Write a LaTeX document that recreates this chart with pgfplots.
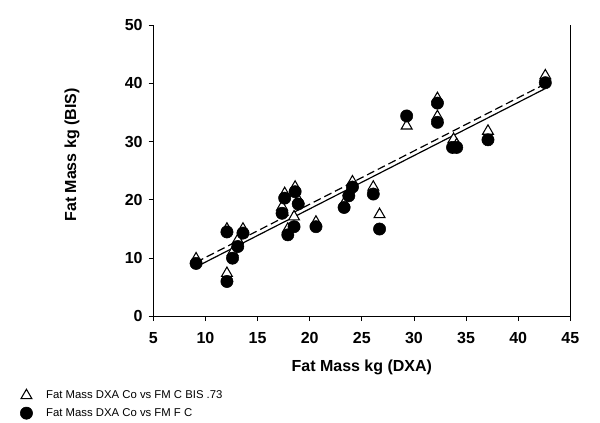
\documentclass[border=0pt]{standalone}
\usepackage{pgfplots}
\pgfplotsset{compat=1.18}
\usepackage{fontspec}
\setmainfont{Liberation Sans}
\pgfplotsset{mylegimg/.style={legend image code/.code={\draw[##1] plot[only marks] coordinates {(0.17cm,0cm)}; \path[draw=none, fill=none] (0cm,0cm) -- (0.62cm,0cm);}}}
\begin{document}
\begin{tikzpicture}
\useasboundingbox (0,0) rectangle (450pt,317.25pt);
\begin{axis}[
  at={(115pt,79.9pt)}, anchor=origin,
  scale only axis, width=312.75pt, height=218.6pt,
  xmin=5, xmax=45, ymin=0, ymax=50,
  xtick={5,10,...,45}, ytick={0,10,...,50},
  axis x line*=bottom, axis y line*=left,
  axis line style={line width=1pt, -},
  tick align=outside, major tick length=3.5pt,
  tick style={line width=0.6pt, black},
  /pgf/number format/assume math mode=true,
  tick label style={font=\fontsize{12pt}{14pt}\selectfont\bfseries},
  xticklabel style={yshift=-5pt},
  yticklabel style={xshift=-1pt},
  xlabel={Fat Mass kg (DXA)}, ylabel={Fat Mass kg (BIS)},
  label style={font=\fontsize{12pt}{14pt}\selectfont\bfseries},
  xlabel style={at={(rel axis cs:0.5,-0.175)}, anchor=center},
  ylabel style={at={(rel axis cs:-0.195,0.554)}, anchor=center},
  clip=false,
  legend style={draw=none, fill=none, at={(rel axis cs:-0.33,-0.235)}, anchor=north west,
    font=\fontsize{8.5pt}{10pt}\selectfont, row sep=1.8pt, legend cell align=left},
]
\addplot[only marks, mylegimg, mark=triangle*, mark size=4.7pt, mark options={fill=white, draw=black, line width=0.8pt}] coordinates {
(9.1,9.9) (12.06,15.0) (12.06,7.4) (12.6,11.0) (13.1,13.1) (13.6,15.0)
(17.35,18.8) (17.6,21.1) (18.6,22.2) (18.9,20.0) (18.5,17.1) (17.9,15.0)
(20.6,16.2) (23.3,19.4) (23.75,21.3) (24.1,23.1) (26.1,22.2) (26.7,17.5)
(29.3,32.7) (32.25,37.4) (32.25,34.3) (33.8,30.4) (34.1,29.5) (37.1,31.8) (42.6,41.3)
};
\addlegendentry{Fat Mass DXA Co vs FM C BIS .73}
\addplot[only marks, mylegimg, mark=*, mark size=4.6pt, mark options={fill=black, draw=black}] coordinates {
(9.1,9.1) (12.06,14.5) (12.06,6.0) (12.6,10.0) (13.1,12.0) (13.6,14.3)
(17.35,17.7) (17.6,20.3) (18.6,21.4) (18.9,19.3) (18.5,15.4) (17.9,14.0)
(20.6,15.4) (23.3,18.7) (23.75,20.7) (24.1,22.2) (26.1,21.0) (26.7,15.0)
(29.3,34.4) (32.25,36.6) (32.25,33.3) (33.7,29.0) (34.1,29.0) (37.1,30.3) (42.6,40.1)
};
\addlegendentry{Fat Mass DXA Co vs FM F C}
\addplot[black, line width=0.9pt, forget plot] coordinates {(9.1,8.5) (42.6,39.1)};
\addplot[black, line width=0.9pt, dash pattern=on 6pt off 3pt, forget plot] coordinates {(9.1,9.3) (42.6,39.9)};
\draw[line width=1pt] (rel axis cs:1,0) -- (rel axis cs:1,1);
\end{axis}
\end{tikzpicture}
\end{document}
